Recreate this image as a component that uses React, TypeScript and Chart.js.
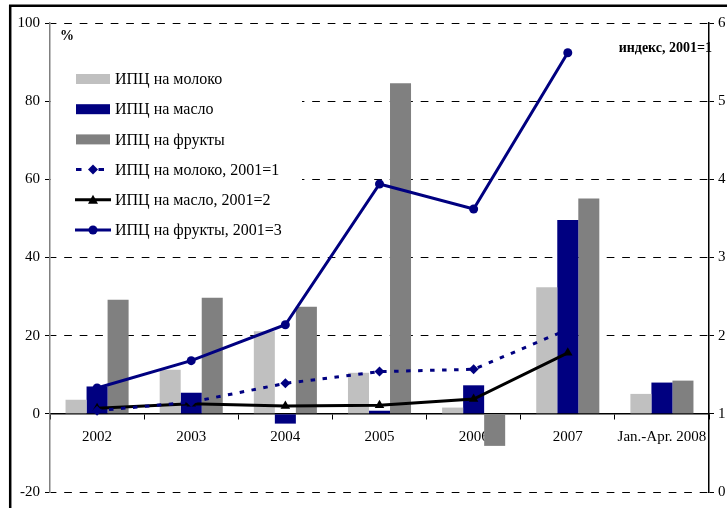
import React, { useEffect, useRef } from "react";
import { Chart, registerables } from "chart.js";

Chart.register(...registerables);

const categories = ["2002", "2003", "2004", "2005", "2006", "2007", "Jan.-Apr. 2008"];

const milkCpi = [3.6, 11.3, 21.1, 10.5, 1.6, 32.4, 5.1];
const butterCpi = [7.0, 5.4, -2.5, 0.8, 7.3, 49.6, 8.0];
const fruitCpi = [29.2, 29.7, 27.4, 84.6, -8.2, 55.1, 8.5];

const milkIndex = [1.04, 1.15, 1.39, 1.54, 1.57, 2.08, null];
const butterIndex = [1.07, 1.13, 1.10, 1.11, 1.19, 1.78, null];
const fruitIndex = [1.33, 1.68, 2.14, 3.94, 3.62, 5.62, null];

const seriesLabels = [
  "ИПЦ на молоко",
  "ИПЦ на масло",
  "ИПЦ на фрукты",
  "ИПЦ на молоко, 2001=1",
  "ИПЦ на масло, 2001=2",
  "ИПЦ на фрукты, 2001=3",
];

const leftTicks = { min: -20, max: 100, step: 20 };
const rightTicks = { min: 0, max: 6, step: 1 };

const FONT = '"Liberation Serif", "Times New Roman", serif';
const NAVY = "#000080";
const LIGHT = "#C0C0C0";
const GRAY = "#808080";

export default function App() {
  const ref = useRef<HTMLCanvasElement>(null);

  useEffect(() => {
    if (!ref.current) return;

    const legendPlugin = {
      id: "customLegend",
      beforeDatasetsDraw(chart: any) {
        const { ctx, chartArea } = chart;
        const x0 = chartArea.left + 26;
        const y0 = chartArea.top + 56;
        const dy = 30.2;
        ctx.save();
        ctx.fillStyle = "#fff";
        ctx.fillRect(chartArea.left + 1, chartArea.top + 25, 251, 205);
        chart.data.datasets.forEach((ds: any, i: number) => {
          const y = y0 + i * dy;
          if (ds.type !== "line") {
            ctx.fillStyle = ds.backgroundColor;
            ctx.fillRect(x0, y - 5, 34, 10);
          } else {
            ctx.strokeStyle = ds.borderColor;
            ctx.lineWidth = 3;
            ctx.beginPath();
            if (ds.borderDash) {
              ctx.moveTo(x0, y);
              ctx.lineTo(x0 + 5.5, y);
              ctx.moveTo(x0 + 22.5, y);
              ctx.lineTo(x0 + 28, y);
            } else {
              ctx.moveTo(x0 - 1, y);
              ctx.lineTo(x0 + 35, y);
            }
            ctx.stroke();
            const cx = x0 + 17;
            ctx.fillStyle = ds.borderColor;
            ctx.beginPath();
            if (ds.pointStyle === "rectRot") {
              ctx.moveTo(cx, y - 5);
              ctx.lineTo(cx + 5, y);
              ctx.lineTo(cx, y + 5);
              ctx.lineTo(cx - 5, y);
            } else if (ds.pointStyle === "triangle") {
              ctx.moveTo(cx, y - 5);
              ctx.lineTo(cx + 5, y + 4);
              ctx.lineTo(cx - 5, y + 4);
            } else {
              ctx.arc(cx, y, 4.5, 0, Math.PI * 2);
            }
            ctx.closePath();
            ctx.fill();
          }
          ctx.fillStyle = "#000";
          ctx.font = `16px ${FONT}`;
          ctx.textBaseline = "middle";
          ctx.textAlign = "left";
          ctx.fillText(ds.label, x0 + 39, y + 1);
        });
        // axis titles
        ctx.font = `bold 14px ${FONT}`;
        ctx.fillText("%", chartArea.left + 10, chartArea.top + 13);
        ctx.textAlign = "right";
        ctx.fillText("индекс, 2001=1", chartArea.right + 3, chartArea.top + 25);
        ctx.restore();
      },
    };

    const framePlugin = {
      id: "frame",
      afterDraw(chart: any) {
        const { ctx, width, height } = chart;
        ctx.save();
        ctx.strokeStyle = "#000";
        ctx.lineWidth = 2.5;
        ctx.beginPath();
        ctx.moveTo(10.2, height);
        ctx.lineTo(10.2, 5.8);
        ctx.lineTo(width, 5.8);
        ctx.stroke();
        ctx.restore();
      },
    };

    const tickFont = { family: FONT, size: 15 };

    const chart = new Chart(ref.current, {
      type: "bar",
      data: {
        labels: categories,
        datasets: [
          {
            type: "bar",
            label: seriesLabels[0],
            data: milkCpi,
            backgroundColor: LIGHT,
            yAxisID: "y",
            order: 2,
            barPercentage: 1,
            categoryPercentage: 0.67,
          },
          {
            type: "bar",
            label: seriesLabels[1],
            data: butterCpi,
            backgroundColor: NAVY,
            yAxisID: "y",
            order: 2,
            barPercentage: 1,
            categoryPercentage: 0.67,
          },
          {
            type: "bar",
            label: seriesLabels[2],
            data: fruitCpi,
            backgroundColor: GRAY,
            yAxisID: "y",
            order: 2,
            barPercentage: 1,
            categoryPercentage: 0.67,
          },
          {
            type: "line",
            label: seriesLabels[3],
            data: milkIndex,
            borderColor: NAVY,
            backgroundColor: NAVY,
            borderWidth: 3,
            borderDash: [4.5, 7.5],
            pointStyle: "rectRot",
            pointRadius: 5,
            pointBackgroundColor: NAVY,
            pointBorderColor: NAVY,
            pointBorderWidth: 0,
            yAxisID: "y1",
            order: 1,
            tension: 0,
          },
          {
            type: "line",
            label: seriesLabels[4],
            data: butterIndex,
            borderColor: "#000",
            backgroundColor: "#000",
            borderWidth: 3,
            pointStyle: "triangle",
            pointRadius: 5.5,
            pointBackgroundColor: "#000",
            pointBorderColor: "#000",
            pointBorderWidth: 0,
            yAxisID: "y1",
            order: 1,
            tension: 0,
          },
          {
            type: "line",
            label: seriesLabels[5],
            data: fruitIndex,
            borderColor: NAVY,
            backgroundColor: NAVY,
            borderWidth: 3,
            pointStyle: "circle",
            pointRadius: 4.5,
            pointBackgroundColor: NAVY,
            pointBorderColor: NAVY,
            pointBorderWidth: 0,
            yAxisID: "y1",
            order: 1,
            tension: 0,
          },
        ] as any,
      },
      options: {
        responsive: false,
        animation: false,
        events: [],
        layout: { padding: { top: 23, bottom: 16, left: 0, right: 0 } },
        plugins: { legend: { display: false }, tooltip: { enabled: false } },
        scales: {
          x: {
            type: "category",
            position: { y: 0 } as any,
            offset: true,
            grid: {
              display: true,
              drawOnChartArea: false,
              drawTicks: true,
              tickLength: 5,
              color: "#000",
              offset: true,
            },
            border: { display: true, color: "#000", width: 1.5 },
            ticks: {
              font: tickFont,
              color: "#000",
              maxRotation: 0,
              autoSkip: false,
              padding: 9,
            },
          },
          y: {
            position: "left",
            min: leftTicks.min,
            max: leftTicks.max,
            ticks: { stepSize: leftTicks.step, font: tickFont, color: "#000", padding: 5 },
            grid: { color: "#000", lineWidth: 1, tickLength: 5, tickColor: "#000", drawTicks: true },
            border: { display: true, color: "#808080", width: 1.5, dash: [7.7, 7.8], dashOffset: 1.8 },
            afterFit: (s: any) => {
              s.width = 50;
            },
          },
          y1: {
            position: "right",
            min: rightTicks.min,
            max: rightTicks.max,
            ticks: { stepSize: rightTicks.step, font: tickFont, color: "#000", padding: 4 },
            grid: { drawOnChartArea: false, tickLength: 5, color: "#000", drawTicks: true },
            border: { display: true, color: "#000", width: 1.5 },
            afterFit: (s: any) => {
              s.width = 18;
            },
          },
        } as any,
      },
      plugins: [legendPlugin, framePlugin],
    });

    return () => chart.destroy();
  }, []);

  return (
    <canvas
      ref={ref}
      width={727}
      height={508}
      style={{ position: "absolute", left: 0, top: 0, display: "block" }}
    />
  );
}
